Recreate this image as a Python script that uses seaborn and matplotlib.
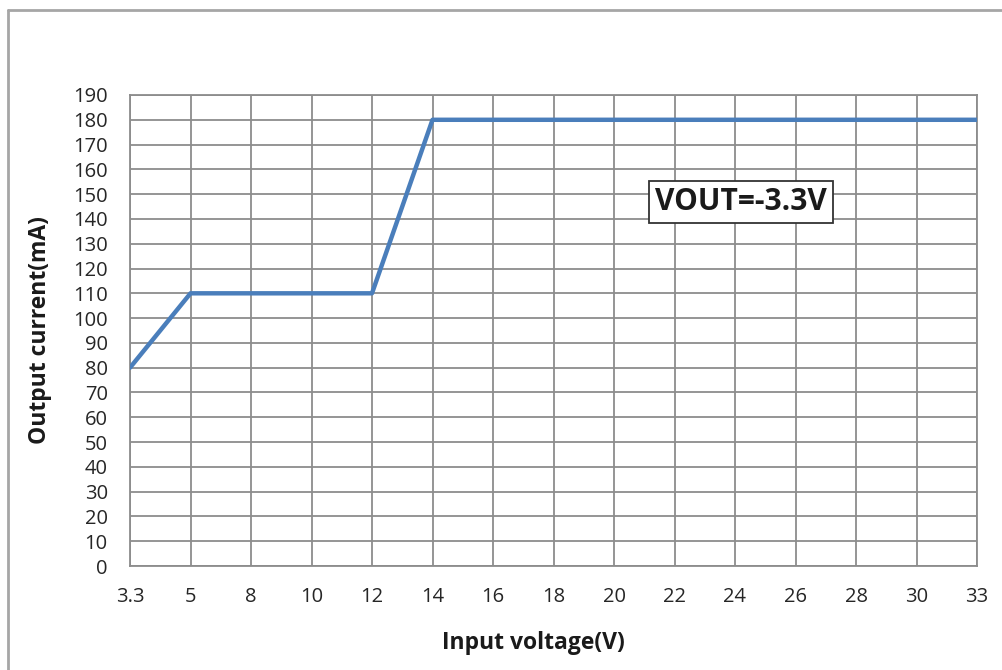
import matplotlib
matplotlib.use("Agg")
import matplotlib.pyplot as plt
import seaborn as sns
import pandas as pd
from matplotlib.lines import Line2D

input_voltage = ["3.3", "5", "8", "10", "12", "14", "16", "18", "20", "22", "24", "26", "28", "30", "33"]
output_current = [80, 110, 110, 110, 110, 180, 180, 180, 180, 180, 180, 180, 180, 180, 180]
y_ticks = list(range(0, 200, 10))
annotation = "VOUT=-3.3V"

sns.set_theme(style="white")
plt.rcParams['font.family'] = ['Open Sans', 'DejaVu Sans']

df = pd.DataFrame({"Input voltage(V)": input_voltage, "Output current(mA)": output_current})

fig = plt.figure(figsize=(10.02, 6.70), dpi=100)
ax_w = (977 - 130) / 1002
ax_h = (566 - 95) / 670
ax = fig.add_axes([130/1002, 1 - 566/670, ax_w, ax_h])

grid_c = "#8c8c8c"
sns.lineplot(data=df, x="Input voltage(V)", y="Output current(mA)", ax=ax,
             color="#4a7ebb", linewidth=3.2, sort=False, zorder=3)

ax.set_xlim(0, len(input_voltage) - 1)
ax.set_ylim(0, 190)
ax.set_yticks(y_ticks)
ax.set_xticks(range(len(input_voltage)))
ax.set_xticklabels(input_voltage)
ax.grid(True, color=grid_c, linewidth=1.3)
ax.set_axisbelow(True)
for s in ax.spines.values():
    s.set_color(grid_c)
    s.set_linewidth(1.3)
ax.tick_params(axis="both", which="major", direction="out", length=6, width=1.3,
               color=grid_c, labelsize=14.5, labelcolor="#262626")
ax.tick_params(axis="y", pad=10)
ax.tick_params(axis="x", pad=9)

ax.set_xlabel("Input voltage(V)", fontsize=16.5, fontweight="bold", color="#1a1a1a")
ax.set_ylabel("Output current(mA)", fontsize=16.5, fontweight="bold", color="#1a1a1a")
ax.xaxis.label.set_va("center")
ax.yaxis.label.set_va("center")
ax.xaxis.set_label_coords((533 - 130) / 847, (566 - 643) / 471)
ax.yaxis.set_label_coords((40 - 130) / 847, 0.5)

ax.text(10.1, 146.8, annotation, fontsize=21.5, fontweight="bold", color="#1a1a1a",
        ha="center", va="center", zorder=5,
        bbox=dict(boxstyle="square,pad=0.2", facecolor="white", edgecolor="#333333", linewidth=1.3))

# outer chart-area border (left and top edges visible)
fig.add_artist(Line2D([8/1002, 8/1002], [0, 1 - 10/670], transform=fig.transFigure,
                      color="#a6a6a6", linewidth=2))
fig.add_artist(Line2D([8/1002, 1], [1 - 10/670, 1 - 10/670], transform=fig.transFigure,
                      color="#a6a6a6", linewidth=2))

fig.savefig("out.png", dpi=100)
